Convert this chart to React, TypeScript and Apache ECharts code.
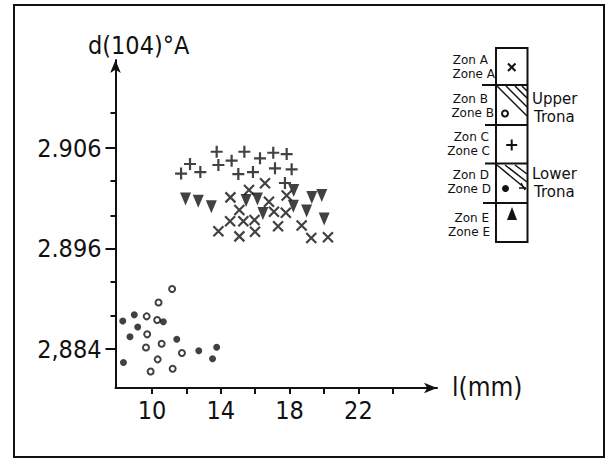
import React, { useEffect, useRef } from "react";
import * as echarts from "echarts";

// ---- data (x = l in mm, y = d(104) in Å) ----
const zoneA_cross: [number, number][] = [
  [16.57, 2.90249], [15.64, 2.90182], [14.56, 2.90109], [17.83, 2.90127],
  [16.8, 2.90066], [15.08, 2.89983], [17.09, 2.89966], [17.78, 2.89956],
  [14.54, 2.89872], [15.31, 2.89872], [15.96, 2.89884], [13.86, 2.89772],
  [15.08, 2.89721], [15.99, 2.89767], [17.33, 2.89821], [18.7, 2.89829],
  [19.26, 2.89704], [20.23, 2.89712],
];
const zoneB_open: [number, number][] = [
  [11.17, 2.89197], [10.38, 2.89062], [9.69, 2.88925], [10.3, 2.88889],
  [9.72, 2.88746], [9.65, 2.88615], [10.56, 2.88652], [11.74, 2.8856],
  [10.33, 2.88497], [9.92, 2.88377], [11.2, 2.88403],
];
const zoneC_plus: [number, number][] = [
  [11.69, 2.90346], [12.21, 2.90441], [12.81, 2.90361], [13.76, 2.90563],
  [13.86, 2.90431], [14.63, 2.90474], [15.37, 2.90563], [15.02, 2.90341],
  [15.87, 2.90361], [16.28, 2.90498], [17.05, 2.90553], [17.83, 2.9054],
  [17.15, 2.90398], [18.12, 2.90388], [17.73, 2.90252],
];
const zoneD_filled: [number, number][] = [
  [8.3, 2.88879], [8.97, 2.8894], [8.72, 2.88722], [9.17, 2.88819],
  [10.66, 2.88872], [11.44, 2.88697], [8.34, 2.88466], [12.72, 2.88583],
  [13.76, 2.88618], [13.52, 2.88503],
];
const zoneE_triangle: [number, number][] = [
  [11.95, 2.90093], [12.69, 2.9007], [13.45, 2.90016], [15.47, 2.90078],
  [16.13, 2.90093], [16.45, 2.89948], [18.24, 2.90177], [18.22, 2.9002],
  [19.29, 2.90107], [19.87, 2.90127], [18.99, 2.89973], [20.01, 2.89894],
];

const xTickValues = [10, 12, 14, 16, 18, 20, 22, 24];
const xLabelValues = [10, 14, 18, 22];
const yTickValues = [2.886, 2.8893, 2.8927, 2.896, 2.8993, 2.9027, 2.906, 2.9095];
const yLabelValues = [2.886, 2.896, 2.906];
const yLabelTexts = ["2,884", "2.896", "2.906"];

const zoneLabels = [
  ["Zon A", "Zone A"],
  ["Zon B", "Zone B"],
  ["Zon C", "Zone C"],
  ["Zon D", "Zone D"],
  ["Zon E", "Zone E"],
];
const tronaLabels = [
  ["Upper", "Trona"],
  ["Lower", "Trona"],
];
const yAxisTitle = "d(104)°A";
const xAxisTitle = "l(mm)";

const INK = "#111";
const NARROW = "'Liberation Sans Narrow', 'DejaVu Sans Condensed', 'Roboto Condensed', Roboto, sans-serif";
const LEG = "'DejaVu Sans', sans-serif";

export default function App() {
  const ref = useRef<HTMLDivElement>(null);
  useEffect(() => {
    document.body.style.margin = "0";
    const chart = echarts.init(ref.current!, null, { renderer: "svg" });

    const legendText = (text: string, right: number, y: number) => ({
      type: "text",
      style: { text, x: right, y, align: "right", verticalAlign: "middle", font: `12px ${LEG}`, lineHeight: 12, fill: INK },
    });
    const line = (x1: number, y1: number, x2: number, y2: number, w = 2) => ({
      type: "line",
      shape: { x1, y1, x2, y2 },
      style: { stroke: INK, lineWidth: w },
    });

    const zoneRows = [
      [60, 74, 488, 495],
      [99, 113, 488, 494],
      [137, 151, 489, 490],
      [175, 189, 489, 491],
      [218, 232, 489, 490],
    ];
    const graphics: any[] = [
      { type: "rect", shape: { x: 14, y: 5, width: 590, height: 452 }, style: { fill: "none", stroke: INK, lineWidth: 2 } },
      { type: "text", style: { text: yAxisTitle, x: 88, y: 45, verticalAlign: "middle", font: `25px ${NARROW}`, fill: INK } },
      { type: "text", style: { text: xAxisTitle, x: 452, y: 387, verticalAlign: "middle", font: `26px ${NARROW}`, fill: INK } },
      // legend box
      { type: "rect", shape: { x: 496, y: 48, width: 31.5, height: 194 }, style: { fill: "none", stroke: INK, lineWidth: 2 } },
      line(482, 85, 527.5, 85),
      line(485, 125, 527.5, 125),
      line(485, 163.5, 527.5, 163.5),
      line(483, 203, 527.5, 203),
      // hatching upper trona
      line(497, 86, 527, 116, 1.5),
      line(506, 86, 527, 107, 1.5),
      line(515, 86, 527, 98, 1.5),
      line(522, 86, 527, 91, 1.5),
      // hatching lower trona
      line(497, 165, 526, 189, 1.5),
      line(505, 165, 527, 182, 1.5),
      line(515, 165, 527, 174, 1.5),
      line(521, 183, 525, 190, 1.5),
      line(519, 188, 526, 188, 1.5),
      // legend symbols
      line(508, 63.5, 515.5, 71),
      line(515.5, 63.5, 508, 71),
      { type: "circle", shape: { cx: 505, cy: 113.5, r: 3 }, style: { fill: "#fff", stroke: INK, lineWidth: 2 } },
      line(511.7, 139.5, 511.7, 150.5),
      line(506.2, 145, 517.2, 145),
      { type: "circle", shape: { cx: 505.5, cy: 188.5, r: 3.5 }, style: { fill: INK } },
      { type: "polygon", shape: { points: [[507, 220], [517, 220], [512, 207]] }, style: { fill: INK } },
      // trona labels
      { type: "text", style: { text: tronaLabels[0][0], x: 532, y: 99, verticalAlign: "middle", font: `15px ${LEG}`, fill: INK } },
      { type: "text", style: { text: tronaLabels[0][1], x: 534, y: 117, verticalAlign: "middle", font: `15px ${LEG}`, fill: INK } },
      { type: "text", style: { text: tronaLabels[1][0], x: 532, y: 174, verticalAlign: "middle", font: `15px ${LEG}`, fill: INK } },
      { type: "text", style: { text: tronaLabels[1][1], x: 534, y: 192, verticalAlign: "middle", font: `15px ${LEG}`, fill: INK } },
    ];
    zoneLabels.forEach((pair, i) => {
      const r = zoneRows[i];
      graphics.push(legendText(pair[0], r[2], r[0]));
      graphics.push(legendText(pair[1], r[3], r[1]));
    });

    const labelFont = { fontFamily: NARROW, fontSize: 25, color: INK };

    chart.setOption({
      animation: false,
      backgroundColor: "#fff",
      grid: { left: 115.5, right: 174, top: 60, bottom: 78, containLabel: false, outerBoundsMode: "none" },
      xAxis: {
        type: "value",
        min: 7.878,
        max: 26.57,
        splitLine: { show: false },
        axisLine: { show: true, lineStyle: { color: INK, width: 2 }, symbol: ["none", "arrow"], symbolSize: [8, 13] },
        axisTick: { show: true, customValues: xTickValues, length: 6, lineStyle: { color: INK, width: 2 } },
        axisLabel: { show: true, customValues: xLabelValues, margin: 10, ...labelFont },
      },
      yAxis: [
        {
          type: "value",
          min: 2.88212,
          max: 2.91476,
          splitLine: { show: false },
          axisLine: { show: true, lineStyle: { color: INK, width: 2 }, symbol: ["none", "arrow"], symbolSize: [8, 13] },
          axisTick: { show: true, customValues: yTickValues, length: 5, lineStyle: { color: INK, width: 2 } },
          axisLabel: {
            show: true,
            customValues: yLabelValues,
            margin: 14,
            ...labelFont,
            formatter: (v: number) => {
              const i = yLabelValues.findIndex((t) => Math.abs(t - v) < 1e-6);
              return i >= 0 ? yLabelTexts[i] : "";
            },
          },
        },
        {
          type: "value",
          min: 2.88212,
          max: 2.91476,
          position: "left",
          splitLine: { show: false },
          axisLine: { show: false },
          axisTick: { show: true, customValues: yLabelValues, length: 10, lineStyle: { color: INK, width: 2 } },
          axisLabel: { show: false },
        },
      ],
      series: [
        {
          name: "Zone A",
          type: "scatter",
          data: zoneA_cross,
          symbol: "path://M0,0L10,10M10,0L0,10",
          symbolSize: 10,
          itemStyle: { color: INK, borderColor: INK, borderWidth: 2.2 },
        },
        {
          name: "Zone B",
          type: "scatter",
          data: zoneB_open,
          symbol: "circle",
          symbolSize: 6,
          itemStyle: { color: "#fff", borderColor: INK, borderWidth: 2 },
        },
        {
          name: "Zone C",
          type: "scatter",
          data: zoneC_plus,
          symbol: "path://M5,0L5,10M0,5L10,5",
          symbolSize: 12,
          itemStyle: { color: INK, borderColor: INK, borderWidth: 2.2 },
        },
        {
          name: "Zone D",
          type: "scatter",
          data: zoneD_filled,
          symbol: "circle",
          symbolSize: 7,
          itemStyle: { color: INK },
        },
        {
          name: "Zone E",
          type: "scatter",
          data: zoneE_triangle,
          symbol: "triangle",
          symbolRotate: 180,
          symbolSize: [11, 13],
          itemStyle: { color: INK },
        },
      ],
      graphic: graphics,
    });
    return () => chart.dispose();
  }, []);
  return <div ref={ref} style={{ width: 611, height: 466 }} />;
}
